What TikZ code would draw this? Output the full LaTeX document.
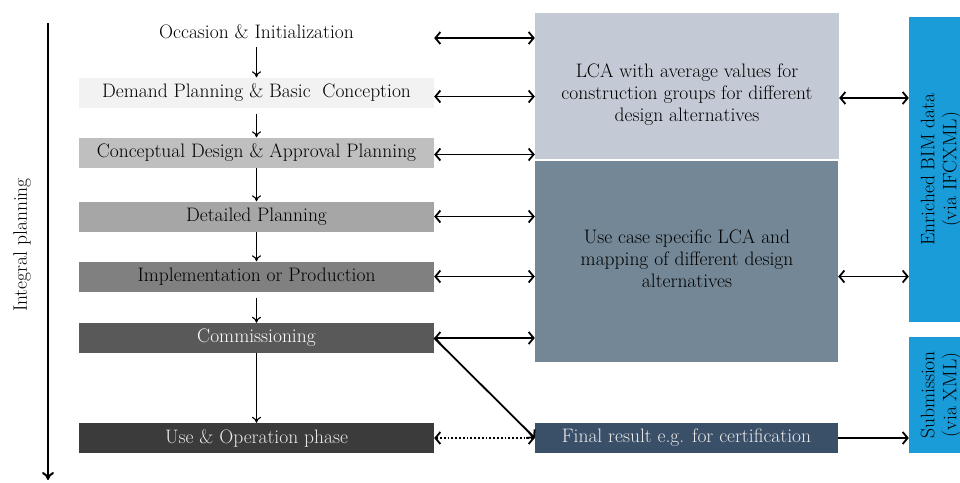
\documentclass[tikz,border=0pt]{standalone}
\usetikzlibrary{arrows.meta,positioning}

\definecolor{phaseA}{HTML}{F2F2F2}
\definecolor{phaseB}{HTML}{BFBFBF}
\definecolor{phaseC}{HTML}{A6A6A6}
\definecolor{phaseD}{HTML}{808080}
\definecolor{phaseE}{HTML}{595959}
\definecolor{phaseF}{HTML}{3B3B3B}
\definecolor{lcaLight}{HTML}{C4CAD5}
\definecolor{lcaDark}{HTML}{738796}
\definecolor{finalBlue}{HTML}{3A5068}
\definecolor{bimBlue}{HTML}{199CD8}

\tikzset{
	txt/.style={font=\fontsize{19.5}{22}\selectfont, align=center, inner sep=0pt},
	phase/.style={txt, minimum width=355pt, minimum height=30pt},
	panel/.style={inner sep=0pt},
	dbl/.style={{Straight Barb[length=5pt,width=12pt]}-{Straight Barb[length=5pt,width=12pt]}, line width=1.8pt},
	sgl/.style={-{Straight Barb[length=5pt,width=12pt]}, line width=1.8pt},
	down/.style={-{To[length=6pt,width=9pt]}, line width=1.1pt},
}

\begin{document}
\begin{tikzpicture}[x=1pt, y=-1pt]

	\useasboundingbox (0,0) rectangle (960,482);

	% time axis
	\coordinate (top) at (48,23);
	\coordinate (bottom) at (48,480);
	\draw[line width=2pt, -{To[length=8pt,width=12pt]}] (top) -- (bottom);
	\node[txt, rotate=90] (axis) at (22,245) {Integral planning};

	% planning phases
	\node[phase] (occ) at (256.5,32) {Occasion \& Initialization};
	\node[phase, fill=phaseA] (dem) at (256.5,92.5) {Demand Planning \& Basic\ \ Conception};
	\node[phase, fill=phaseB] (con) at (256.5,152.5) {Conceptual Design \& Approval\ Planning};
	\node[phase, fill=phaseC] (det) at (256.5,216.5) {Detailed Planning};
	\node[phase, fill=phaseD] (imp) at (256.5,276.5) {Implementation or Production};
	\node[phase, fill=phaseE, text=white] (com) at (256.5,338) {Commissioning};
	\node[phase, fill=phaseF, text=black!8] (use) at (256.5,438) {Use \& Operation phase};

	\draw[down] (occ.south) -- (dem.north);
	\draw[down] ([yshift=-6pt]dem.south) -- (con.north);
	\draw[down] (con.south) -- (det.north);
	\draw[down] (det.south) -- (imp.north);
	\draw[down] ([yshift=-6pt]imp.south) -- (com.north);
	\draw[down] (com.south) -- (use.north);

	% LCA panels
	\node[panel, fill=lcaLight, minimum width=304pt, minimum height=146pt] (avg) at (687,86) {};
	\node[panel, fill=lcaDark, minimum width=303pt, minimum height=201pt] (spec) at (686.5,261.5) {};
	\node[panel, fill=finalBlue, minimum width=303pt, minimum height=30pt] (fin) at (686.5,438) {};
	\node[txt] (avgtxt) at (687,95) {LCA with average values for\\construction groups for different\\design alternatives};
	\node[txt] (spectxt) at (687,259) {Use case specific LCA and\\mapping of different design\\alternatives};
	\node[txt, text=black!8] (fintxt) at (fin.center) {Final result e.g. for certification};

	% data exchange
	\node[panel, fill=bimBlue, minimum width=66pt, minimum height=305pt] (bim) at (942,169.5) {};
	\node[panel, fill=bimBlue, minimum width=66pt, minimum height=116pt] (sub) at (942,395) {};
	\node[txt, rotate=90] (bimtxt) at (941,169.5) {Enriched BIM data\\(via IFCXML)};
	\node[txt, rotate=90] (subtxt) at (941,395) {Submission\\(via XML)};

	% connectors
	\draw[dbl] ([yshift=-6pt]occ.east) -- ([yshift=-6pt]occ.east -| avg.west);
	\draw[dbl] ([yshift=-4pt]dem.east) -- ([yshift=-4pt]dem.east -| avg.west);
	\draw[dbl] ([yshift=-2pt]con.east) -- ([yshift=-2pt]con.east -| avg.west);
	\draw[dbl] (det.east) -- (det.east -| spec.west);
	\draw[dbl] (imp.east) -- (imp.east -| spec.west);
	\draw[dbl] (com.east) -- (com.east -| spec.west);
	\draw[dbl, dotted] (use.east) -- (fin.west);
	\draw[sgl] (com.east) -- (fin.west);
	\draw[dbl] ([yshift=-12pt]avg.east) -- ([yshift=-12pt]avg.east -| bim.west);
	\draw[dbl] (imp.east -| spec.east) -- (imp.east -| bim.west);
	\draw[sgl] (fin.east) -- (fin.east -| sub.west);

\end{tikzpicture}
\end{document}
